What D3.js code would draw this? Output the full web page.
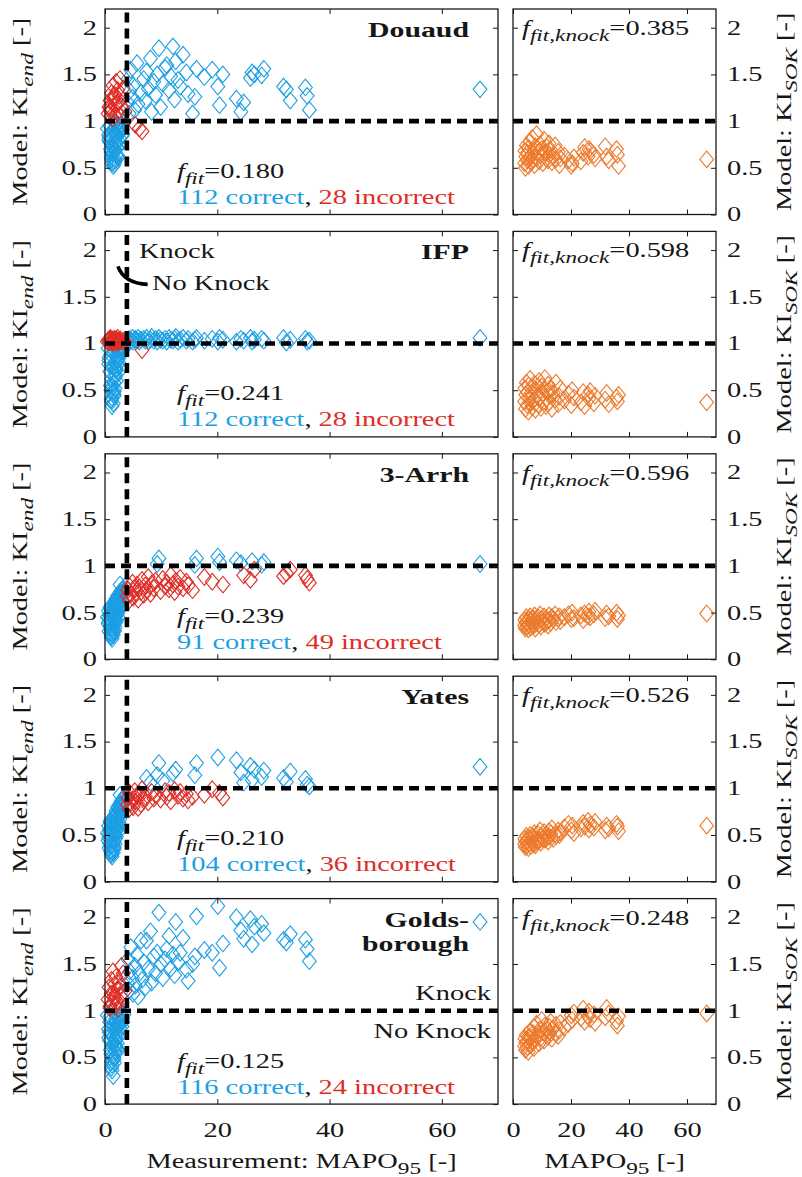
<!DOCTYPE html>
<html>
<head>
<meta charset="utf-8">
<script src="https://cdn.jsdelivr.net/npm/d3@7"></script>
<style>
  body { margin: 0; background: #fff; }
  svg text { font-family: "Liberation Serif", "Times New Roman", serif; }
</style>
</head>
<body>
<svg id="chart" width="802" height="1177"></svg>
<script>
// ---- knock-model comparison: predicted knock integral vs. measured MAPO95 ----

const models = ["Douaud", "IFP", "3-Arrh", "Yates", "Goldsborough"];
const modelLabelLines = [["Douaud"], ["IFP"], ["3-Arrh"], ["Yates"], ["Golds-", "borough"]];
const fFit = ["0.180", "0.241", "0.239", "0.210", "0.125"];
const fFitKnock = ["0.385", "0.598", "0.596", "0.526", "0.248"];
const xTicks = [0, 20, 40, 60];
const yTicks = [0, 0.5, 1, 1.5, 2];
const yTickLabels = ["0", "0.5", "1", "1.5", "2"];
const mapoLimit = 3.9;   // measured knock threshold (MAPO95)
const kiLimit = 1;       // predicted knock threshold (KI)

// measured MAPO95 of the non-knocking operating points
const mapoNoKnock = [
  0.42, 0.55, 0.63, 0.71, 0.78, 0.84, 0.90, 0.97, 1.02, 1.08,
  1.12, 1.17, 1.21, 1.26, 1.30, 1.34, 1.39, 1.43, 1.47, 1.52,
  1.56, 1.60, 1.64, 1.69, 1.73, 1.77, 1.81, 1.86, 1.90, 1.94,
  1.98, 2.03, 2.07, 2.12, 2.16, 2.21, 2.25, 2.30, 2.35, 2.39,
  2.44, 2.49, 2.54, 2.60, 2.66, 2.72, 2.79, 2.86, 2.94, 3.03,
  3.12, 3.24, 3.38, 3.55, 0.66, 0.88, 1.05, 1.24, 1.36, 1.58,
  1.71, 1.84, 1.95, 2.09, 2.28, 2.47, 2.68, 0.75, 0.95, 1.15,
  1.32, 1.49, 1.66, 1.79, 2.01, 2.19, 2.57, 2.83, 3.18
];

// measured MAPO95 of the knocking operating points
const mapoKnock = [
  4.0, 4.1, 4.3, 4.4, 4.6, 4.9, 5.0, 5.3, 5.4, 5.7,
  5.9, 6.1, 6.4, 6.6, 6.9, 7.2, 7.4, 7.7, 8.1, 8.3,
  8.7, 9.0, 9.3, 9.6, 9.9, 10.3, 10.7, 11.0, 11.4, 11.7,
  12.1, 12.4, 12.6, 13.0, 13.4, 13.9, 14.5, 14.8, 15.6, 16.0,
  16.3, 17.7, 19.1, 20.1, 20.4, 21.0, 23.4, 24.2, 24.7, 25.9,
  26.2, 26.6, 27.9, 28.3, 31.8, 32.3, 33.0, 35.7, 36.0, 36.4,
  66.8
];

// KI_end predicted for the non-knocking points
const kiEndNoKnockDouaud = [
  0.92, 1.08, 0.85, 1.15, 0.78, 0.95, 1.22, 0.70, 0.88, 1.05,
  0.62, 1.30, 0.75, 0.55, 1.12, 0.82, 0.66, 1.38, 0.52, 0.90,
  0.99, 0.72, 0.60, 1.25, 0.86, 0.68, 1.18, 0.58, 0.94, 0.76,
  1.42, 0.64, 0.83, 1.09, 0.71, 0.97, 1.33, 0.79, 0.61, 1.20,
  0.87, 0.74, 1.27, 0.93, 0.81, 1.06, 0.89, 0.96, 1.16, 0.84,
  0.91, 1.35, 0.98, 1.10, 0.80, 1.14, 0.67, 0.73, 1.03, 0.57,
  1.28, 0.69, 0.77, 1.19, 0.63, 0.90, 1.45, 0.83, 1.11, 0.59,
  0.65, 1.24, 0.54, 0.88, 0.97, 0.72, 0.95, 0.91, 0.86
];
const kiEndNoKnockIFP = [
  1.02, 0.95, 1.04, 0.82, 1.01, 0.70, 1.05, 0.55, 0.88, 1.03,
  0.40, 1.02, 0.62, 0.33, 1.04, 0.75, 0.48, 1.01, 0.36, 0.90,
  1.03, 0.58, 0.44, 1.05, 0.80, 0.52, 1.02, 0.67, 0.97, 0.73,
  1.04, 0.60, 0.85, 1.01, 0.77, 0.93, 1.06, 0.83, 0.69, 1.03,
  0.88, 0.79, 1.02, 0.92, 0.86, 1.04, 0.94, 0.98, 0.95, 0.91,
  0.96, 1.03, 0.99, 1.02, 0.78, 1.04, 0.50, 0.42, 1.01, 0.46,
  1.05, 0.64, 0.71, 1.03, 0.81, 0.90, 1.02, 0.85, 1.06, 0.38,
  0.54, 1.03, 0.49, 0.72, 1.04, 0.87, 0.96, 0.97, 0.94
];
const kiEndNoKnockArrh = [
  0.45, 0.38, 0.52, 0.30, 0.48, 0.35, 0.56, 0.28, 0.42, 0.50,
  0.24, 0.46, 0.33, 0.22, 0.54, 0.40, 0.29, 0.58, 0.26, 0.49,
  0.55, 0.36, 0.31, 0.60, 0.44, 0.34, 0.62, 0.39, 0.57, 0.47,
  0.65, 0.41, 0.53, 0.63, 0.48, 0.58, 0.68, 0.51, 0.45, 0.66,
  0.59, 0.54, 0.70, 0.62, 0.57, 0.72, 0.64, 0.67, 0.74, 0.69,
  0.71, 0.76, 0.73, 0.78, 0.40, 0.47, 0.32, 0.27, 0.51, 0.37,
  0.50, 0.43, 0.46, 0.61, 0.55, 0.60, 0.80, 0.44, 0.54, 0.25,
  0.34, 0.52, 0.30, 0.42, 0.56, 0.49, 0.66, 0.71, 0.75
];
const kiEndNoKnockYates = [
  0.52, 0.44, 0.60, 0.36, 0.56, 0.41, 0.65, 0.33, 0.49, 0.58,
  0.29, 0.54, 0.39, 0.27, 0.63, 0.47, 0.34, 0.68, 0.31, 0.57,
  0.64, 0.42, 0.37, 0.70, 0.51, 0.40, 0.72, 0.46, 0.66, 0.55,
  0.76, 0.48, 0.62, 0.74, 0.56, 0.68, 0.80, 0.60, 0.53, 0.77,
  0.69, 0.63, 0.82, 0.72, 0.67, 0.84, 0.75, 0.79, 0.87, 0.81,
  0.83, 0.89, 0.86, 0.92, 0.47, 0.55, 0.38, 0.32, 0.60, 0.43,
  0.58, 0.50, 0.54, 0.71, 0.64, 0.70, 0.93, 0.51, 0.63, 0.30,
  0.40, 0.61, 0.35, 0.49, 0.65, 0.57, 0.77, 0.83, 0.88
];
const kiEndNoKnockGolds = [
  0.95, 1.12, 0.80, 1.25, 0.68, 0.88, 1.05, 0.58, 0.76, 1.18,
  0.45, 1.33, 0.62, 0.36, 1.08, 0.72, 0.52, 1.42, 0.30, 0.84,
  1.15, 0.66, 0.48, 1.28, 0.79, 0.56, 1.05, 0.64, 0.91, 0.70,
  1.36, 0.60, 0.82, 1.10, 0.74, 0.93, 1.22, 0.78, 0.57, 1.02,
  0.86, 0.73, 1.30, 0.90, 0.81, 1.16, 0.87, 0.97, 1.48, 0.83,
  0.92, 1.40, 0.96, 1.21, 0.71, 1.03, 0.54, 0.42, 0.99, 0.50,
  1.13, 0.61, 0.69, 1.07, 0.59, 0.85, 1.26, 0.77, 0.94, 0.39,
  0.47, 1.19, 0.44, 0.75, 0.89, 0.65, 0.93, 0.96, 0.88
];

// KI_end predicted for the knocking points
const kiEndKnockDouaud = [
  1.20, 1.45, 1.08, 1.32, 1.55, 1.25, 1.38, 1.12, 0.96, 1.62,
  1.18, 0.92, 1.30, 0.89, 1.45, 1.22, 1.53, 1.35, 1.67, 1.10,
  1.42, 1.28, 1.50, 1.78, 1.15, 1.40, 1.57, 1.60, 1.33, 1.48,
  1.80, 1.23, 1.64, 1.44, 1.37, 1.71, 1.52, 1.29, 1.08, 1.26,
  1.56, 1.47, 1.55, 1.37, 1.17, 1.50, 1.24, 1.10, 1.20, 1.46,
  1.52, 1.50, 1.49, 1.56, 1.37, 1.34, 1.22, 1.36, 1.27, 1.12,
  1.34
];
const kiEndKnockIFP = [
  1.02, 1.04, 1.01, 1.05, 1.03, 1.06, 1.02, 1.04, 1.05, 1.03,
  1.06, 1.02, 1.04, 0.93, 1.05, 1.03, 1.06, 1.02, 1.04, 1.07,
  1.03, 1.05, 1.02, 1.06, 1.04, 1.03, 1.05, 1.02, 1.06, 1.04,
  1.03, 1.05, 1.07, 1.02, 1.04, 1.06, 1.03, 1.05, 1.02, 1.04,
  1.06, 1.03, 1.05, 1.02, 1.06, 1.04, 1.02, 1.05, 1.03, 1.06,
  1.02, 1.04, 1.05, 1.03, 1.06, 1.01, 1.04, 1.05, 1.02, 1.03,
  1.06
];
const kiEndKnockArrh = [
  0.68, 0.74, 0.63, 0.78, 0.70, 0.82, 0.66, 0.75, 0.71, 0.80,
  0.64, 0.77, 0.72, 0.85, 0.69, 0.79, 0.74, 0.88, 0.70, 0.81,
  0.76, 0.84, 1.02, 1.08, 0.73, 0.86, 0.78, 0.82, 0.75, 0.90,
  0.80, 0.72, 0.84, 0.78, 0.87, 0.76, 0.83, 0.79, 0.74, 1.01,
  1.08, 0.88, 0.83, 1.10, 1.04, 0.80, 1.06, 1.03, 0.90, 0.85,
  1.05, 0.96, 1.01, 1.04, 0.89, 0.92, 0.96, 0.90, 0.86, 0.82,
  1.02
];
const kiEndKnockYates = [
  0.82, 0.90, 0.78, 0.95, 0.84, 0.88, 0.80, 0.97, 0.86, 0.92,
  0.79, 0.94, 0.83, 0.99, 0.87, 0.91, 1.11, 0.85, 1.06, 0.96,
  0.89, 0.93, 1.14, 1.27, 0.88, 1.08, 0.97, 0.91, 0.95, 0.86,
  1.16, 0.98, 1.20, 0.92, 0.96, 0.89, 0.94, 0.87, 0.91, 1.14,
  1.27, 0.93, 0.99, 1.33, 0.95, 0.90, 1.30, 1.17, 1.06, 1.24,
  1.09, 1.20, 1.12, 1.19, 1.11, 1.07, 1.18, 1.10, 1.04, 1.02,
  1.23
];
const kiEndKnockGolds = [
  1.30, 1.55, 1.22, 1.42, 1.68, 1.35, 1.18, 1.48, 1.27, 1.60,
  1.15, 1.40, 1.75, 1.33, 1.52, 1.25, 1.75, 1.45, 1.85, 1.30,
  1.58, 1.40, 1.62, 2.05, 1.50, 1.35, 1.55, 1.66, 1.80, 1.45,
  1.60, 1.38, 1.95, 1.52, 1.62, 1.78, 1.44, 1.32, 1.50, 1.58,
  2.01, 1.65, 1.62, 2.12, 1.46, 1.72, 2.00, 1.86, 1.77, 1.98,
  1.71, 1.90, 1.93, 1.83, 1.76, 1.73, 1.82, 1.76, 1.66, 1.53,
  1.95
];

// KI at start of knock (SOK) for the knocking points
const kiSokDouaud = [
  0.55, 0.68, 0.50, 0.62, 0.74, 0.58, 0.66, 0.52, 0.71, 0.60,
  0.78, 0.56, 0.64, 0.82, 0.59, 0.69, 0.53, 0.73, 0.86, 0.61,
  0.67, 0.57, 0.75, 0.63, 0.70, 0.55, 0.80, 0.66, 0.60, 0.72,
  0.58, 0.76, 0.64, 0.69, 0.56, 0.62, 0.74, 0.59, 0.67, 0.53,
  0.60, 0.63, 0.58, 0.52, 0.55, 0.61, 0.57, 0.66, 0.72, 0.62,
  0.70, 0.68, 0.64, 0.60, 0.73, 0.62, 0.58, 0.70, 0.64, 0.52,
  0.59
];
const kiSokIFP = [
  0.38, 0.52, 0.30, 0.45, 0.58, 0.34, 0.48, 0.27, 0.55, 0.41,
  0.62, 0.36, 0.47, 0.32, 0.53, 0.40, 0.57, 0.29, 0.50, 0.44,
  0.35, 0.60, 0.42, 0.31, 0.54, 0.46, 0.38, 0.63, 0.33, 0.49,
  0.56, 0.37, 0.44, 0.51, 0.30, 0.47, 0.40, 0.58, 0.35, 0.43,
  0.52, 0.39, 0.46, 0.34, 0.50, 0.42, 0.37, 0.48, 0.33, 0.45,
  0.41, 0.49, 0.36, 0.44, 0.40, 0.47, 0.35, 0.42, 0.38, 0.45,
  0.37
];
const kiSokArrh = [
  0.36, 0.42, 0.33, 0.39, 0.45, 0.35, 0.40, 0.32, 0.43, 0.37,
  0.46, 0.34, 0.41, 0.38, 0.44, 0.36, 0.47, 0.33, 0.42, 0.39,
  0.45, 0.37, 0.48, 0.35, 0.43, 0.40, 0.46, 0.38, 0.44, 0.41,
  0.36, 0.47, 0.42, 0.39, 0.45, 0.43, 0.48, 0.40, 0.44, 0.46,
  0.41, 0.45, 0.48, 0.43, 0.50, 0.44, 0.47, 0.42, 0.49, 0.46,
  0.51, 0.45, 0.48, 0.52, 0.44, 0.49, 0.46, 0.50, 0.43, 0.47,
  0.49
];
const kiSokYates = [
  0.40, 0.46, 0.37, 0.43, 0.49, 0.39, 0.44, 0.36, 0.47, 0.41,
  0.50, 0.38, 0.45, 0.42, 0.48, 0.40, 0.52, 0.39, 0.46, 0.43,
  0.51, 0.44, 0.55, 0.42, 0.49, 0.46, 0.53, 0.45, 0.50, 0.47,
  0.43, 0.54, 0.48, 0.52, 0.57, 0.46, 0.51, 0.49, 0.55, 0.50,
  0.53, 0.58, 0.62, 0.55, 0.60, 0.52, 0.57, 0.63, 0.59, 0.65,
  0.56, 0.61, 0.58, 0.64, 0.55, 0.60, 0.57, 0.62, 0.59, 0.54,
  0.60
];
const kiSokGolds = [
  0.62, 0.70, 0.58, 0.66, 0.74, 0.61, 0.68, 0.56, 0.72, 0.64,
  0.78, 0.63, 0.71, 0.67, 0.76, 0.60, 0.82, 0.69, 0.86, 0.73,
  0.75, 0.65, 0.80, 0.71, 0.90, 0.77, 0.68, 0.84, 0.74, 0.79,
  0.72, 0.83, 0.77, 0.88, 0.70, 0.81, 0.76, 0.85, 0.73, 0.79,
  0.87, 0.82, 0.86, 0.95, 0.90, 0.98, 0.92, 1.02, 0.88, 0.94,
  0.99, 0.91, 0.96, 0.87, 0.93, 1.03, 0.97, 0.89, 0.84, 0.94,
  0.97
];

const kiEndNoKnockByModel = [kiEndNoKnockDouaud, kiEndNoKnockIFP, kiEndNoKnockArrh, kiEndNoKnockYates, kiEndNoKnockGolds];
const kiEndKnockByModel = [kiEndKnockDouaud, kiEndKnockIFP, kiEndKnockArrh, kiEndKnockYates, kiEndKnockGolds];
const kiSokByModel = [kiSokDouaud, kiSokIFP, kiSokArrh, kiSokYates, kiSokGolds];

// ---- layout ----
const FONT = '"Liberation Serif", "Times New Roman", serif';
const FS = 20;          // base font size
const SX = 1.42;        // wide-set glyphs: horizontal stretch along the baseline
const SUB = 0.82;       // subscript size ratio
const BLUE = "#1c9fe3", RED = "#de2d26", ORANGE = "#ec7a2c", INK = "#161616";
const TOP0 = 9, ROW_STEP = 222.4, PANEL_H = 205.5;
const L = { x0: 105, x1: 498 }, R = { x0: 513, x1: 716 };
const xL = d3.scaleLinear().domain([0, 70]).range([L.x0, L.x1]);
const xR = d3.scaleLinear().domain([0, 70]).range([R.x0, R.x1]);
const diamond = "M0,-8.3L6.9,0L0,8.3L-6.9,0Z";

const svg = d3.select("#chart");

// a text element placed at (x, y), optionally rotated, with wide glyphs
function label(parent, x, y, opts = {}) {
  const rot = opts.rotate ? ` rotate(${opts.rotate})` : "";
  return parent.append("text")
    .attr("transform", `translate(${x},${y})${rot} scale(${SX},1)`)
    .attr("text-anchor", opts.anchor || "start")
    .attr("font-size", opts.size || FS)
    .attr("font-weight", opts.bold ? "bold" : null)
    .attr("fill", INK);
}

// text with optional italic / subscript / coloured runs
function rich(sel, parts, size = FS) {
  let cur = 0;
  parts.forEach(p => {
    const target = p.sub ? size * 0.3 : 0;
    const ts = sel.append("tspan").text(p.t).attr("dy", target - cur);
    cur = target;
    if (p.sub) ts.attr("font-size", size * SUB);
    if (p.it) ts.attr("font-style", "italic");
    if (p.c) ts.attr("fill", p.c);
  });
  return sel;
}

function styleAxis(g) {
  g.attr("font-family", FONT).attr("font-size", FS);
  g.select(".domain").remove();
  g.selectAll(".tick line").attr("stroke", INK).attr("stroke-width", 1);
  g.selectAll(".tick text").attr("fill", INK).attr("transform", `scale(${SX},1)`);
}

function frame(g, x, y, x0, x1, top, labelSide, showX) {
  const bottom = top + PANEL_H;
  const yTickFmt = (d, i) => yTickLabels[i];
  g.append("g").attr("transform", `translate(${x0},0)`)
    .call(d3.axisLeft(y).tickValues(yTicks).tickSize(-5).tickSizeOuter(0).tickPadding(8 / SX)
      .tickFormat(labelSide === "left" ? yTickFmt : ""))
    .call(styleAxis);
  g.append("g").attr("transform", `translate(${x1},0)`)
    .call(d3.axisRight(y).tickValues(yTicks).tickSize(-5).tickSizeOuter(0).tickPadding(11 / SX)
      .tickFormat(labelSide === "right" ? yTickFmt : ""))
    .call(styleAxis);
  g.append("g").attr("transform", `translate(0,${top})`)
    .call(d3.axisTop(x).tickValues(xTicks).tickSize(-5).tickSizeOuter(0).tickFormat(""))
    .call(styleAxis);
  g.append("g").attr("transform", `translate(0,${bottom})`)
    .call(d3.axisBottom(x).tickValues(xTicks).tickSize(-5).tickSizeOuter(0).tickPadding(19)
      .tickFormat(showX ? d3.format("d") : ""))
    .call(styleAxis);
  g.append("rect").attr("x", x0).attr("y", top).attr("width", x1 - x0).attr("height", PANEL_H)
    .attr("fill", "none").attr("stroke", "#1a1a1a").attr("stroke-width", 1.3);
}

function dashed(g, x1, y1, x2, y2) {
  g.append("line").attr("x1", x1).attr("y1", y1).attr("x2", x2).attr("y2", y2)
    .attr("stroke", "#000").attr("stroke-width", 4.6).attr("stroke-dasharray", "10,6");
}

models.forEach((name, r) => {
  const top = TOP0 + r * ROW_STEP;
  const bottom = top + PANEL_H;
  const y = d3.scaleLinear().domain([0, 2.2]).range([bottom, top]);
  const last = r === models.length - 1;

  const nk = kiEndNoKnockByModel[r], kk = kiEndKnockByModel[r], sok = kiSokByModel[r];
  const pts = mapoNoKnock.map((m, i) => ({ x: m, ki: nk[i], ok: (m > mapoLimit) === (nk[i] >= kiLimit) }))
    .concat(mapoKnock.map((m, i) => ({ x: m, ki: kk[i], ok: (m > mapoLimit) === (kk[i] >= kiLimit) })));
  const nOk = pts.filter(p => p.ok).length;
  const nBad = pts.length - nOk;

  // ---------- left panel: KI_end ----------
  const gL = svg.append("g").attr("class", "panel-end");
  gL.selectAll("path.pt")
    .data(pts.filter(p => p.ok).concat(pts.filter(p => !p.ok)))
    .join("path").attr("class", "pt")
    .attr("d", diamond)
    .attr("transform", d => `translate(${xL(d.x)},${y(d.ki)})`)
    .attr("fill", "none").attr("stroke", d => d.ok ? BLUE : RED).attr("stroke-width", 1.1);

  dashed(gL, xL(0), y(kiLimit), xL(70), y(kiLimit));
  dashed(gL, xL(mapoLimit), y(0), xL(mapoLimit), y(2.2));
  frame(gL, xL, y, L.x0, L.x1, top, "left", last);

  // model name
  modelLabelLines[r].forEach((line, j) => {
    label(gL, 469, top + 28 + j * 24, { anchor: "end", size: 21, bold: true }).text(line);
  });

  // fit metric and classification counts
  rich(label(gL, 177, top + 169),
    [{ t: "f", it: true }, { t: "fit", it: true, sub: true }, { t: "=" + fFit[r] }]);
  rich(label(gL, 177, top + 195),
    [{ t: nOk + " correct", c: BLUE }, { t: ", " }, { t: nBad + " incorrect", c: RED }]);

  // y label
  rich(label(svg, 27, top + PANEL_H / 2, { anchor: "middle", rotate: -90 }),
    [{ t: "Model: KI" }, { t: "end", it: true, sub: true }, { t: " [-]" }]);

  // ---------- right panel: KI_SOK of knocking points ----------
  const gR = svg.append("g").attr("class", "panel-sok");
  gR.selectAll("path.pt")
    .data(mapoKnock.map((m, i) => ({ x: m, ki: sok[i] })))
    .join("path").attr("class", "pt")
    .attr("d", diamond)
    .attr("transform", d => `translate(${xR(d.x)},${y(d.ki)})`)
    .attr("fill", "none").attr("stroke", ORANGE).attr("stroke-width", 1.1);
  dashed(gR, xR(0), y(kiLimit), xR(70), y(kiLimit));
  frame(gR, xR, y, R.x0, R.x1, top, "right", last);

  rich(label(gR, 522, top + 26),
    [{ t: "f", it: true }, { t: "fit,knock", it: true, sub: true }, { t: "=" + fFitKnock[r] }]);

  rich(label(svg, 791, top + PANEL_H / 2, { anchor: "middle", rotate: -90 }),
    [{ t: "Model: KI" }, { t: "SOK", it: true, sub: true }, { t: " [-]" }]);

  // region annotations
  if (r === 1) {
    label(gL, 139, top + 27).text("Knock");
    label(gL, 152, top + 59).text("No Knock");
    gL.append("path")
      .attr("d", `M${xL(2.3)},${top + 35}Q${xL(3.4)},${top + 52} ${xL(7.6)},${top + 53}`)
      .attr("fill", "none").attr("stroke", "#000").attr("stroke-width", 3.6);
  }
  if (last) {
    label(gL, 491, y(kiLimit) - 11, { anchor: "end" }).text("Knock");
    label(gL, 491, y(kiLimit) + 27, { anchor: "end" }).text("No Knock");

    rich(label(svg, (L.x0 + L.x1) / 2, 1168, { anchor: "middle" }),
      [{ t: "Measurement: MAPO" }, { t: "95", sub: true }, { t: " [-]" }]);
    rich(label(svg, (R.x0 + R.x1) / 2, 1168, { anchor: "middle" }),
      [{ t: "MAPO" }, { t: "95", sub: true }, { t: " [-]" }]);
  }
});
</script>
</body>
</html>
